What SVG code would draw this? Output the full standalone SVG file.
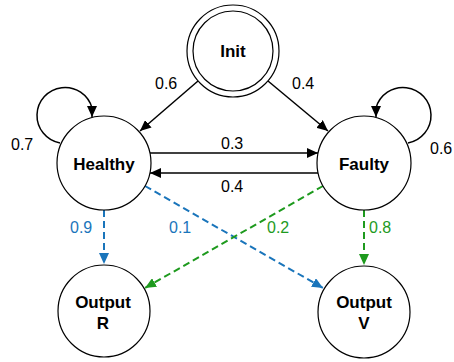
<svg xmlns="http://www.w3.org/2000/svg" width="454" height="362" viewBox="0 0 454 362">
<style>
.node{fill:#fff;stroke:#000;stroke-width:1.2}
.lbl{font-family:"Liberation Sans",Arial,sans-serif;font-size:17px;font-weight:bold;text-anchor:middle;fill:#000}
.el{font-family:"Liberation Sans",Arial,sans-serif;font-size:16px;fill:#000}
.blue{fill:#1a75bb}
.green{fill:#1e9a1e}
.e{fill:none;stroke:#000;stroke-width:1.5}
.eb{fill:none;stroke:#1a75bb;stroke-width:2;stroke-dasharray:7 4}
.eg{fill:none;stroke:#1e9a1e;stroke-width:2;stroke-dasharray:7 4}
</style>
<defs>
<marker id="ak" markerUnits="userSpaceOnUse" markerWidth="12" markerHeight="10" refX="11" refY="5" orient="auto"><path d="M0,0 L11,5 L0,10 z" fill="#000"/></marker>
<marker id="ab" markerUnits="userSpaceOnUse" markerWidth="12" markerHeight="10" refX="11" refY="5" orient="auto"><path d="M0,0 L11,5 L0,10 z" fill="#1a75bb"/></marker>
<marker id="ag" markerUnits="userSpaceOnUse" markerWidth="12" markerHeight="10" refX="11" refY="5" orient="auto"><path d="M0,0 L11,5 L0,10 z" fill="#1e9a1e"/></marker>
</defs>
<g id="connectors">
<path class="e" d="M198,81 L140,131" marker-end="url(#ak)"/>
<path class="e" d="M268,81 L328,131" marker-end="url(#ak)"/>
<path class="e" d="M150,153 L318,153" marker-end="url(#ak)"/>
<path class="e" d="M318,173 L150,173" marker-end="url(#ak)"/>
<path class="e" d="M60,143 A28 28 0 1 1 92,108 L92,117" marker-end="url(#ak)"/>
<path class="e" d="M408,143 A28 28 0 1 0 376,108 L376,117" marker-end="url(#ak)"/>
<path class="eb" d="M104,210 L104,264" marker-end="url(#ab)"/>
<path class="eb" d="M145,186 L323,288" marker-end="url(#ab)"/>
<path class="eg" d="M323,186 L145,288" marker-end="url(#ag)"/>
<path class="eg" d="M364,210 L364,265" marker-end="url(#ag)"/>
<text class="el" x="155" y="89">0.6</text>
<text class="el" x="292" y="89">0.4</text>
<text class="el" x="221" y="149">0.3</text>
<text class="el" x="221" y="192">0.4</text>
<text class="el" x="11" y="150">0.7</text>
<text class="el" x="430" y="154">0.6</text>
<text class="el blue" x="70" y="233">0.9</text>
<text class="el blue" x="169" y="233">0.1</text>
<text class="el green" x="267" y="233">0.2</text>
<text class="el green" x="369" y="233">0.8</text>
</g>
<g id="init">
<circle class="node" cx="233" cy="51" r="46"/>
<circle class="node" cx="233" cy="51" r="40"/>
<text class="lbl" x="233" y="57">Init</text>
</g>
<g id="healthy">
<circle class="node" cx="104" cy="163" r="47"/>
<text class="lbl" x="104" y="170">Healthy</text>
</g>
<g id="faulty">
<circle class="node" cx="364" cy="163" r="47"/>
<text class="lbl" x="364" y="170">Faulty</text>
</g>
<g id="outputR">
<circle class="node" cx="104" cy="311" r="46"/>
<text class="lbl" x="103" y="308">Output</text>
<text class="lbl" x="103" y="329">R</text>
</g>
<g id="outputV">
<circle class="node" cx="364" cy="312" r="46"/>
<text class="lbl" x="364" y="308">Output</text>
<text class="lbl" x="364" y="329">V</text>
</g>
</svg>
